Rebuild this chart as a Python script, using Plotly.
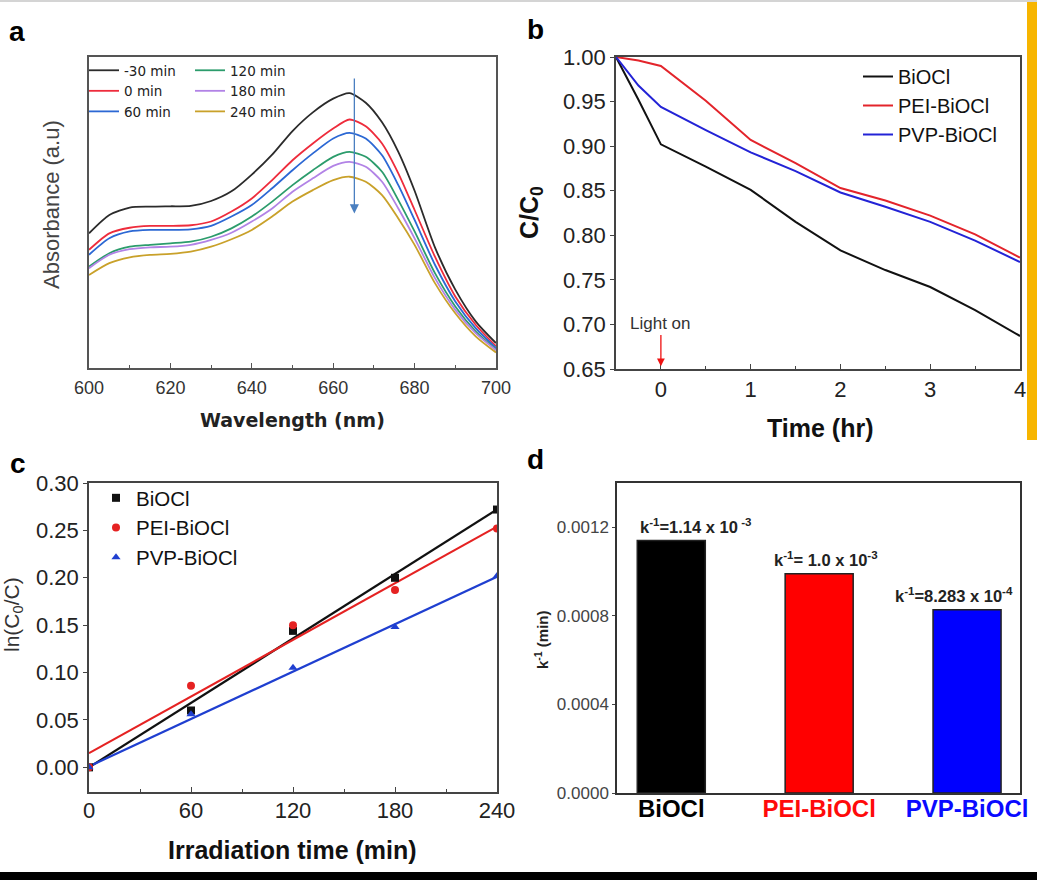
import plotly.graph_objects as go

W, H = 1037, 880


def px(x):
    return x / W


def py(y):
    return 1 - y / H


# ---------------- Panel a: UV-vis spectra ----------------
wavelength = [600, 605, 610, 615, 620, 625, 630, 635, 640, 645, 650, 655, 660, 664,
              668, 672, 676, 680, 685, 690, 695, 700]
abs_m30 = [0.433, 0.492, 0.516, 0.519, 0.520, 0.521, 0.537, 0.568, 0.622, 0.686, 0.762,
           0.822, 0.866, 0.884, 0.853, 0.790, 0.695, 0.570, 0.388, 0.252, 0.150, 0.080]
abs_0 = [0.380, 0.433, 0.451, 0.457, 0.457, 0.459, 0.471, 0.503, 0.545, 0.604, 0.668,
         0.722, 0.770, 0.799, 0.777, 0.722, 0.626, 0.508, 0.358, 0.230, 0.139, 0.070]
abs_60 = [0.364, 0.417, 0.439, 0.444, 0.444, 0.446, 0.457, 0.487, 0.524, 0.578, 0.636,
          0.690, 0.738, 0.756, 0.738, 0.684, 0.588, 0.476, 0.332, 0.214, 0.128, 0.064]
abs_120 = [0.326, 0.369, 0.390, 0.396, 0.401, 0.406, 0.422, 0.449, 0.487, 0.535, 0.588,
           0.636, 0.679, 0.695, 0.679, 0.631, 0.540, 0.439, 0.305, 0.198, 0.118, 0.059]
abs_180 = [0.321, 0.364, 0.382, 0.388, 0.390, 0.396, 0.412, 0.435, 0.471, 0.513, 0.567,
           0.610, 0.650, 0.663, 0.647, 0.599, 0.513, 0.417, 0.289, 0.187, 0.112, 0.057]
abs_240 = [0.299, 0.337, 0.356, 0.364, 0.367, 0.374, 0.390, 0.414, 0.444, 0.487, 0.535,
           0.572, 0.604, 0.615, 0.599, 0.556, 0.481, 0.396, 0.273, 0.176, 0.102, 0.050]
a_names = ["-30 min", "0 min", "60 min", "120 min", "180 min", "240 min"]

# ---------------- Panel b: C/C0 vs time ----------------
time_hr = [-0.5, -0.25, 0, 0.5, 1, 1.5, 2, 2.5, 3, 3.5, 4]
cc0_biocl = [1.0, 0.952, 0.902, 0.877, 0.851, 0.815, 0.783, 0.761, 0.742, 0.716, 0.687]
cc0_pei = [1.0, 0.996, 0.990, 0.951, 0.907, 0.881, 0.853, 0.839, 0.822, 0.801, 0.775]
cc0_pvp = [1.0, 0.968, 0.944, 0.918, 0.893, 0.872, 0.848, 0.832, 0.815, 0.794, 0.770]
sample_names = ["BiOCl", "PEI-BiOCl", "PVP-BiOCl"]

# ---------------- Panel c: kinetics ----------------
t_min = [0, 60, 120, 180, 240]
ln_biocl = [0.0, 0.060, 0.144, 0.200, 0.272]
ln_pei = [0.0, 0.086, 0.150, 0.187, 0.252]
ln_pvp = [0.0, 0.056, 0.105, 0.148, 0.202]
fit_t = [0, 240]
fit_biocl = [0.0, 0.272]
fit_pei = [0.015, 0.254]
fit_pvp = [0.001, 0.201]

# ---------------- Panel d: rate constants ----------------
k_values = [0.00114, 0.00099, 0.000828]
k_labels = ["k<sup>-1</sup>=1.14 x 10<sup> -3</sup>",
            "k<sup>-1</sup>= 1.0 x 10<sup>-3</sup>",
            "k<sup>-1</sup>=8.283 x 10<sup>-4</sup>"]

FONT = "Liberation Sans, Arial, sans-serif"

fig = go.Figure()

# Panel a traces
a_colors = ["#2b2b2b", "#ee2c3c", "#2c68d4", "#2c9c6c", "#b283e6", "#c9a12a"]
a_legends = ["legend", "legend", "legend", "legend2", "legend2", "legend2"]
for name, vals, col, lg in zip(a_names, [abs_m30, abs_0, abs_60, abs_120, abs_180, abs_240],
                               a_colors, a_legends):
    fig.add_trace(go.Scatter(x=wavelength, y=vals, mode="lines", name=name,
                             line=dict(color=col, width=1.8, shape="spline", smoothing=0.7),
                             xaxis="x", yaxis="y", legend=lg))

# Panel b traces
b_colors = ["#111111", "#e3242b", "#2323d6"]
for name, vals, col in zip(sample_names, [cc0_biocl, cc0_pei, cc0_pvp], b_colors):
    fig.add_trace(go.Scatter(x=time_hr, y=vals, mode="lines", name=name,
                             line=dict(color=col, width=2),
                             xaxis="x2", yaxis="y2", legend="legend3"))

# Panel c traces
c_colors = ["#111111", "#e52222", "#1f3fd0"]
c_symbols = ["square", "circle", "triangle-up"]
for vals, col in zip([fit_biocl, fit_pei, fit_pvp], c_colors):
    fig.add_trace(go.Scatter(x=fit_t, y=vals, mode="lines", showlegend=False,
                             line=dict(color=col, width=2.2), xaxis="x3", yaxis="y3"))
for name, vals, col, sym in zip(sample_names, [ln_biocl, ln_pei, ln_pvp], c_colors, c_symbols):
    fig.add_trace(go.Scatter(x=t_min, y=vals, mode="markers", name=name,
                             marker=dict(color=col, symbol=sym, size=8),
                             xaxis="x3", yaxis="y3", legend="legend4"))

# Panel d bars
d_colors = ["#000000", "#ff0000", "#0000ff"]
fig.add_trace(go.Bar(x=sample_names, y=k_values, width=0.46,
                     marker=dict(color=d_colors, line=dict(color="#222", width=1.5)),
                     showlegend=False, xaxis="x4", yaxis="y4"))

frame = dict(showline=True, mirror=True, showgrid=False, zeroline=False, automargin=False)

layout = dict(
    template="none",
    width=W, height=H, margin=dict(l=0, r=0, t=0, b=0, pad=0, autoexpand=False),
    paper_bgcolor="white", plot_bgcolor="white",
    font=dict(family=FONT, color="#222"),
    # a
    xaxis=dict(domain=[px(89), px(496)], range=[600, 700], anchor="y",
               tickmode="array", tickvals=[600, 620, 640, 660, 680, 700],
               ticks="inside", ticklen=5, tickcolor="#555", ticklabelstandoff=3,
               minor=dict(dtick=10, tick0=600, ticks="inside", ticklen=3, tickcolor="#555"),
               tickfont=dict(size=18, color="#333"), linecolor="#555", linewidth=1.5, **frame),
    yaxis=dict(domain=[py(368), py(57)], range=[0, 1], anchor="x",
               showticklabels=False, ticks="", linecolor="#555", linewidth=1.5, **frame),
    # b
    xaxis2=dict(domain=[px(616), px(1020)], range=[-0.5, 4], anchor="y2",
                tickmode="array", tickvals=[0, 1, 2, 3, 4],
                ticks="inside", ticklen=5, tickcolor="#444", ticklabelstandoff=0,
                minor=dict(tickvals=[-0.5, 0.5, 1.5, 2.5, 3.5], ticks="inside", ticklen=3, tickcolor="#444"),
                tickfont=dict(size=22, color="#222"), linecolor="#444", linewidth=1.5, **frame),
    yaxis2=dict(domain=[py(369), py(57)], range=[0.65, 1.0], anchor="x2",
                tickmode="array", tickvals=[0.65, 0.70, 0.75, 0.80, 0.85, 0.90, 0.95, 1.00],
                tickformat=".2f", ticks="outside", ticklen=4, tickcolor="#444",
                tickfont=dict(size=22, color="#222"), linecolor="#444", linewidth=1.5, **frame),
    # c
    xaxis3=dict(domain=[px(89), px(497)], range=[0, 240], anchor="y3",
                tickmode="array", tickvals=[0, 60, 120, 180, 240],
                ticks="inside", ticklen=5, tickcolor="#444", ticklabelstandoff=-2,
                minor=dict(tickvals=[30, 90, 150, 210], ticks="inside", ticklen=3, tickcolor="#444"),
                tickfont=dict(size=22, color="#222"), linecolor="#444", linewidth=1.5, **frame),
    yaxis3=dict(domain=[py(792), py(483)], range=[-0.026, 0.30], anchor="x3",
                tickmode="array", tickvals=[0, 0.05, 0.10, 0.15, 0.20, 0.25, 0.30],
                tickformat=".2f", ticks="outside", ticklen=4, tickcolor="#444",
                tickfont=dict(size=22, color="#222"), linecolor="#444", linewidth=1.5, **frame),
    # d
    xaxis4=dict(domain=[px(617), px(1020)], range=[-0.367, 2.358], anchor="y4",
                type="category", tickmode="array", tickvals=sample_names,
                ticktext=["<b>BiOCl</b>",
                          "<b><span style='color:#ff0a0a'>PEI-BiOCl</span></b>",
                          "<b><span style='color:#0a0aff'>PVP-BiOCl</span></b>"],
                ticks="", ticklabelstandoff=-7,
                tickfont=dict(size=24, color="#000"), linecolor="#333", linewidth=1.5, **frame),
    yaxis4=dict(domain=[py(793), py(483)], range=[0, 0.0014], anchor="x4",
                tickmode="array", tickvals=[0, 0.0004, 0.0008, 0.0012],
                tickformat=".4f", ticks="outside", ticklen=3, tickcolor="#444",
                tickfont=dict(size=17, color="#444"), linecolor="#333", linewidth=1.5, **frame),
    legend=dict(x=px(84), y=py(55), xanchor="left", yanchor="top", bgcolor="rgba(0,0,0,0)",
                font=dict(size=13.5, family="DejaVu Sans, sans-serif", color="#222"),
                tracegroupgap=0, itemwidth=30, borderwidth=0),
    legend2=dict(x=px(190), y=py(55), xanchor="left", yanchor="top", bgcolor="rgba(0,0,0,0)",
                 font=dict(size=13.5, family="DejaVu Sans, sans-serif", color="#222"),
                 tracegroupgap=0, itemwidth=30, borderwidth=0),
    legend3=dict(x=px(858), y=py(57), xanchor="left", yanchor="top", bgcolor="rgba(0,0,0,0)",
                 font=dict(size=20, color="#111"), tracegroupgap=0, borderwidth=0),
    legend4=dict(x=px(96), y=py(478), xanchor="left", yanchor="top", bgcolor="rgba(0,0,0,0)",
                 font=dict(size=20.5, color="#111"), tracegroupgap=0, borderwidth=0),
)
fig.update_layout(**layout)

ann = []
# panel letters
for letter, x, y in [("a", 17, 31), ("b", 535, 30), ("c", 18, 463), ("d", 535, 459)]:
    ann.append(dict(text=f"<b>{letter}</b>", x=px(x), y=py(y), xref="paper", yref="paper",
                    xanchor="center", yanchor="middle", showarrow=False,
                    font=dict(size=28, color="#000")))
# axis titles
titles = [
    ("<b>Wavelength (nm)</b>", 292, 420, 0, 19, "#222", "DejaVu Sans, sans-serif"),
    ("Absorbance (a.u)", 52, 205, -90, 22, "#444", FONT),
    ("<b>Time (hr)</b>", 820, 428, 0, 25, "#111", FONT),
    ("<b>C/C<sub>0</sub></b>", 531, 213, -90, 25, "#111", FONT),
    ("<b>Irradiation time (min)</b>", 292, 850, 0, 25, "#111", FONT),
    ("ln(C<sub>0</sub>/C)", 13, 615, -90, 21, "#333", FONT),
    ("<b>k<sup>-1</sup> (min)</b>", 541, 640, -90, 15, "#222", FONT),
]
for t, x, y, ang, sz, col, fam in titles:
    ann.append(dict(text=t, x=px(x), y=py(y), xref="paper", yref="paper",
                    xanchor="center", yanchor="middle", showarrow=False, textangle=ang,
                    font=dict(size=sz, color=col, family=fam)))

# panel a arrow
ann.append(dict(x=665.2, y=0.497, ax=665.2, ay=0.936, xref="x", yref="y", axref="x", ayref="y",
                text="", showarrow=True, arrowhead=2, arrowsize=1.4, arrowwidth=1.3,
                arrowcolor="#4a7fc0"))
# panel b light on
ann.append(dict(x=0, y=0.653, ax=0, ay=0.7005, xref="x2", yref="y2", axref="x2", ayref="y2",
                text="Light on", showarrow=True, arrowhead=2, arrowsize=1.2, arrowwidth=1.3,
                arrowcolor="#ee1111", font=dict(size=17, color="#333")))
# panel d bar labels
for name, val, lab, xs in zip(sample_names, k_values, k_labels, [24, 7, -13]):
    ann.append(dict(x=name, y=val, xref="x4", yref="y4", text=f"<b>{lab}</b>",
                    xanchor="center", yanchor="bottom", yshift=3, xshift=xs, showarrow=False,
                    font=dict(size=16.5, color="#222")))

fig.update_layout(annotations=ann)

# decorative frame elements of the source image
fig.add_shape(type="rect", xref="paper", yref="paper", x0=px(1027), x1=1.0, y0=py(440), y1=1.0,
              fillcolor="#f7b500", line=dict(width=0), layer="below")
fig.add_shape(type="rect", xref="paper", yref="paper", x0=0, x1=1.0, y0=0, y1=py(872),
              fillcolor="#000000", line=dict(width=0))
fig.add_shape(type="rect", xref="paper", yref="paper", x0=0, x1=1.0, y0=py(2), y1=1.0,
              fillcolor="#d4d4d4", line=dict(width=0))

fig.write_html("out.html", config={"displayModeBar": False},
               post_script="document.body.style.margin='0px';document.body.style.overflow='hidden';")
